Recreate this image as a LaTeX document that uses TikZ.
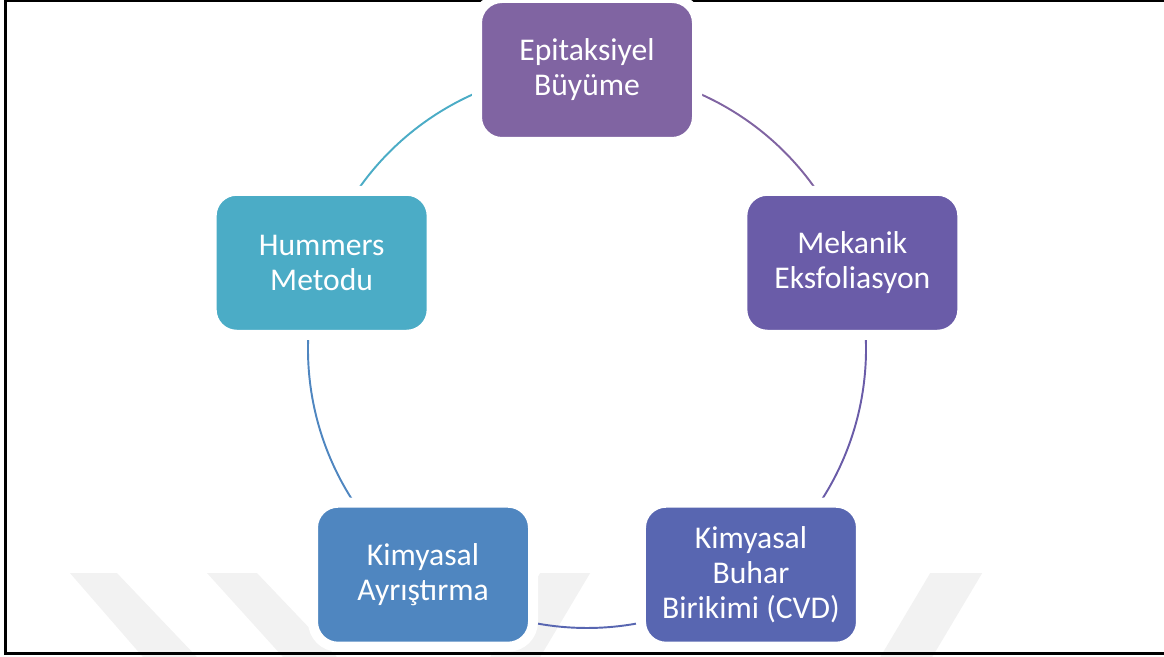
\documentclass[tikz,border=0pt]{standalone}
\usepackage{fontspec}
\setmainfont{Carlito}
\usetikzlibrary{positioning, backgrounds}

\definecolor{epicol}{HTML}{8064A2}
\definecolor{mekcol}{HTML}{6A5CA8}
\definecolor{cvdcol}{HTML}{5866B1}
\definecolor{ayrcol}{HTML}{4F86C0}
\definecolor{humcol}{HTML}{4BACC6}
\definecolor{wmark}{HTML}{F2F2F2}

\begin{document}
\begin{tikzpicture}[
    method/.style={draw=white, line width=0.2cm, rounded corners=0.5cm,
      minimum width=4.4cm, minimum height=2.88cm, align=center,
      text=white, font=\fontsize{18}{20}\selectfont},
    ring/.style={line width=1.1pt}]
  \useasboundingbox (0,0) rectangle (23.28,13.14);

  \coordinate (ctr) at (11.74,6.16);
  \node[method, fill=epicol] (epi) at ([shift={(90:5.58)}]ctr)   {Epitaksiyel\\Büyüme};
  \node[method, fill=mekcol] (mek) at ([shift={(18:5.58)}]ctr)   {Mekanik\\Eksfoliasyon};
  \node[method, fill=cvdcol] (cvd) at ([shift={(-54:5.58)}]ctr)  {Kimyasal\\Buhar\\Birikimi (CVD)};
  \node[method, fill=ayrcol] (ayr) at ([shift={(-126:5.58)}]ctr) {Kimyasal\\Ayrıştırma};
  \node[method, fill=humcol] (hum) at ([shift={(162:5.58)}]ctr)  {Hummers\\Metodu};

  \begin{scope}[on background layer]
    % faint watermark
    \begin{scope}[x=0.02cm, y=-0.02cm, yshift=13.14cm]
      \fill[wmark] (70,573) -- (117,573) -- (197,657) -- (143,657) -- cycle;
      \fill[wmark] (207,573) -- (257,573) -- (337,657) -- (283,657) -- cycle;
      \fill[wmark] (540,573) -- (590,573) -- (540,657) -- (490,657) -- cycle;
      \fill[wmark] (930,573) -- (982,573) -- (932,657) -- (880,657) -- cycle;
    \end{scope}
    % frame
    \draw[line width=0.06cm] (23.28,13.12) -- (0.12,13.12) -- (0.12,0.07) -- (23.28,0.07);
    % cycle arcs
    \foreach \a/\s/\c in {epi/90/epicol, mek/18/mekcol, cvd/-54/cvdcol, ayr/-126/ayrcol, hum/162/humcol}
      \draw[ring, \c] (\a.center) arc[start angle=\s, delta angle=-72, radius=5.58cm];
  \end{scope}
\end{tikzpicture}
\end{document}
